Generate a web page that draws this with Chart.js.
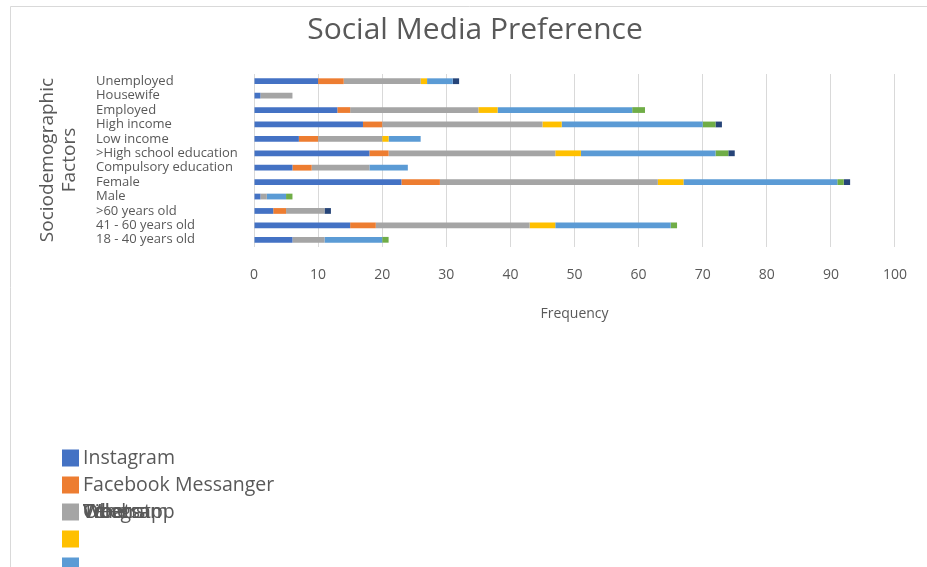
<!DOCTYPE html>
<html>
<head>
<meta charset="utf-8">
<title>Social Media Preference</title>
<script src="https://cdn.jsdelivr.net/npm/chart.js@4.4.1/dist/chart.umd.min.js"></script>
<style>
  html, body { margin: 0; padding: 0; background: #ffffff; }
  #wrap { width: 927px; height: 567px; }
</style>
</head>
<body>
<div id="wrap"><canvas id="chart" width="927" height="567"></canvas></div>
<script>
// categories, top to bottom as in the picture
const categories = [
    'Unemployed', 'Housewife', 'Employed', 'High income', 'Low income',
    '>High school education', 'Compulsory education', 'Female', 'Male',
    '>60 years old', '41 - 60 years old', '18 - 40 years old'
];

const seriesNames = ['Instagram', 'Facebook Messanger', 'Whatsapp', 'Telegram', 'Viber', 'Wechat', 'Others'];

const instagram = [10, 1, 13, 17, 7, 18, 6, 23, 1, 3, 15, 6];
const messenger = [4, 0, 2, 3, 3, 3, 3, 6, 0, 2, 4, 0];
const whatsapp  = [12, 5, 20, 25, 10, 26, 9, 34, 1, 6, 24, 5];
const telegram  = [1, 0, 3, 3, 1, 4, 0, 4, 0, 0, 4, 0];
const viber     = [4, 0, 21, 22, 5, 21, 6, 24, 3, 0, 18, 9];
const wechat    = [0, 0, 2, 2, 0, 2, 0, 1, 1, 0, 1, 1];
const others    = [1, 0, 0, 1, 0, 1, 0, 1, 0, 1, 0, 0];

const xTicks = [0, 10, 20, 30, 40, 50, 60, 70, 80, 90, 100];

const seriesColors = ['#4472C4', '#ED7D31', '#A5A5A5', '#FFC000', '#5B9BD5', '#70AD47', '#264478'];
const textColor = '#595959';
const fontFamily = '"Open Sans", "Noto Sans", sans-serif';

const seriesData = [instagram, messenger, whatsapp, telegram, viber, wechat, others];

// title, y axis title, frame and the (clipped, overlapping) legend like the original
const decorPlugin = {
    id: 'decor',
    afterDraw(chart) {
        const ctx = chart.ctx;
        ctx.save();

        // outer frame of the chart object
        ctx.strokeStyle = '#d9d9d9';
        ctx.lineWidth = 1;
        ctx.beginPath();
        ctx.moveTo(10.5, 600);
        ctx.lineTo(10.5, 6.5);
        ctx.lineTo(940, 6.5);
        ctx.stroke();

        ctx.fillStyle = textColor;
        ctx.textBaseline = 'middle';

        // main title
        ctx.font = '30px ' + fontFamily;
        ctx.textAlign = 'center';
        ctx.fillText('Social Media Preference', 475, 30);

        // y axis title, two lines rotated
        ctx.font = '19px ' + fontFamily;
        ctx.save();
        ctx.translate(48, 160);
        ctx.rotate(-Math.PI / 2);
        ctx.fillText('Sociodemographic', 0, 0);
        ctx.restore();
        ctx.save();
        ctx.translate(70, 160);
        ctx.rotate(-Math.PI / 2);
        ctx.fillText('Factors', 0, 0);
        ctx.restore();

        // legend: swatches go down, labels from the 3rd one pile up on one row
        ctx.font = '19.5px ' + fontFamily;
        ctx.textAlign = 'left';
        chart.data.datasets.forEach((ds, i) => {
            const rowY = 458 + i * 27;
            ctx.fillStyle = ds.backgroundColor;
            ctx.fillRect(62, rowY - 8.5, 17, 17);
            const labelY = 458 + Math.min(i, 2) * 27;
            ctx.fillStyle = textColor;
            ctx.fillText(ds.label, 83, labelY);
        });

        ctx.restore();
    }
};

function buildDatasets() {
    return seriesNames.map((name, i) => ({
        label: name,
        data: seriesData[i],
        backgroundColor: seriesColors[i],
        borderWidth: 0,
        barPercentage: 0.4,
        categoryPercentage: 1
    }));
}

function renderChart() {
    const ctx = document.getElementById('chart');

    new Chart(ctx, {
        type: 'bar',
        data: {
            labels: categories,
            datasets: buildDatasets()
        },
        options: {
            indexAxis: 'y',
            responsive: false,
            animation: false,
            layout: {
                padding: { top: 74, left: 96, right: 27, bottom: 235 }
            },
            scales: {
                x: {
                    stacked: true,
                    min: 0,
                    max: 100,
                    afterBuildTicks: (axis) => {
                        axis.ticks = xTicks.map(v => ({ value: v }));
                    },
                    afterFit: (axis) => { axis.height = 85; },
                    grid: { color: '#d9d9d9', lineWidth: 1, drawTicks: false },
                    border: { display: false },
                    ticks: {
                        padding: 20,
                        color: textColor,
                        font: { family: fontFamily, size: 14 }
                    },
                    title: {
                        display: true,
                        text: 'Frequency',
                        color: textColor,
                        padding: { top: 8, bottom: 10 },
                        font: { family: fontFamily, size: 14 }
                    }
                },
                y: {
                    stacked: true,
                    afterFit: (axis) => { axis.width = 158; },
                    grid: { display: false },
                    border: { display: false },
                    ticks: {
                        crossAlign: 'far',
                        autoSkip: false,
                        color: textColor,
                        font: { family: fontFamily, size: 13 }
                    }
                }
            },
            plugins: {
                legend: { display: false },
                title: { display: false },
                tooltip: { enabled: false }
            }
        },
        plugins: [decorPlugin]
    });
}

renderChart();
</script>
</body>
</html>
